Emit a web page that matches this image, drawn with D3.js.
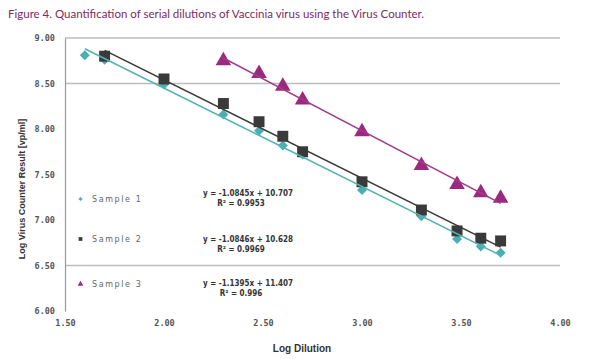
<!DOCTYPE html>
<html><head><meta charset="utf-8">
<script src="https://cdn.jsdelivr.net/npm/d3@7"></script>
<style>body{margin:0;background:#fff}svg{display:block}</style>
</head><body>
<script>
// ---- data ----
const s1x = [1.6, 1.7, 2.0, 2.3, 2.48, 2.6, 2.7, 3.0, 3.3, 3.48, 3.6, 3.7];
const s1y = [8.81, 8.76, 8.49, 8.16, 7.98, 7.82, 7.72, 7.33, 7.04, 6.79, 6.71, 6.64];
const s2x = [1.7, 2.0, 2.3, 2.48, 2.6, 2.7, 3.0, 3.3, 3.48, 3.6, 3.7];
const s2y = [8.80, 8.55, 8.28, 8.08, 7.92, 7.75, 7.42, 7.11, 6.88, 6.80, 6.77];
const s3x = [2.3, 2.48, 2.6, 2.7, 3.0, 3.3, 3.48, 3.6, 3.7];
const s3y = [8.75, 8.61, 8.47, 8.32, 7.97, 7.60, 7.39, 7.30, 7.24];
const seriesNames = ["Sample 1", "Sample 2", "Sample 3"];
const equations = ["y = -1.0845x + 10.707", "y = -1.0846x + 10.628", "y = -1.1395x + 11.407"];
const rsq = ["R\u00b2 = 0.9953", "R\u00b2 = 0.9969", "R\u00b2 = 0.996"];
const xTicks = [1.5, 2.0, 2.5, 3.0, 3.5, 4.0];
const yTicks = [6.0, 6.5, 7.0, 7.5, 8.0, 8.5, 9.0];
const gridVals = [9.0, 8.5, 6.5];
const title = "Figure 4. Quantification of serial dilutions of Vaccinia virus using the Virus Counter.";

const W = 608, H = 359;
const svg = d3.select("body").append("svg").attr("width", W).attr("height", H);
const x = d3.scaleLinear().domain([1.5, 4.0]).range([65, 560]);
const y = d3.scaleLinear().domain([6.0, 9.0]).range([311, 38]);

svg.append("text").attr("x", 8).attr("y", 18).text(title)
  .attr("font-family", "Lato").attr("font-size", 11.5).attr("fill", "#7d2a66");

// gridlines
svg.append("g").selectAll("line").data(gridVals).join("line")
  .attr("x1", x(1.5)).attr("x2", x(4.0)).attr("y1", d => y(d)).attr("y2", d => y(d))
  .attr("stroke", "#bdbdbd").attr("stroke-width", 1.5);

// y axis
const yAxis = svg.append("g").attr("transform", `translate(${x(1.5)},0)`)
  .call(d3.axisLeft(y).tickValues(yTicks).tickFormat(d3.format(".2f")).tickSize(0).tickPadding(10));
yAxis.select(".domain").attr("stroke", "#999").attr("stroke-width", 1.2);
yAxis.selectAll("text").attr("font-family", "DejaVu Sans Mono").attr("font-weight", "bold")
  .attr("font-size", 8.5).attr("fill", "#555");

const xAxis = svg.append("g").attr("transform", `translate(0,${y(6.0)})`)
  .call(d3.axisBottom(x).tickValues(xTicks).tickFormat(d3.format(".2f")).tickSize(0).tickPadding(9));
xAxis.select(".domain").remove();
xAxis.selectAll("text").attr("font-family", "DejaVu Sans Mono").attr("font-weight", "bold")
  .attr("font-size", 8.5).attr("fill", "#555");

svg.append("text").attr("transform", "translate(25,189) rotate(-90)").attr("text-anchor", "middle")
  .text("Log Virus Counter Result [vp/ml]").attr("font-family", "Liberation Sans")
  .attr("font-weight", "bold").attr("font-size", 9).attr("fill", "#333");
svg.append("text").attr("x", 302).attr("y", 352).attr("text-anchor", "middle")
  .text("Log Dilution").attr("font-family", "Liberation Sans")
  .attr("font-weight", "bold").attr("font-size", 10).attr("fill", "#333");

const colors = ["#4aafb0", "#3a3a3a", "#9a2a80"];
const lineColors = ["#55b3b3", "#3a3a3a", "#a23b89"];
const xs = [s1x, s2x, s3x], ys = [s1y, s2y, s3y];

function fit(xv, yv) {
  const mx = d3.mean(xv), my = d3.mean(yv);
  let num = 0, den = 0;
  xv.forEach((v, i) => { num += (v - mx) * (yv[i] - my); den += (v - mx) * (v - mx); });
  const m = num / den; return [m, my - m * mx];
}

function markerPath(i, size) {
  return d3.symbol(i === 2 ? d3.symbolTriangle : d3.symbolSquare, size)();
}
const symSizes = [50, 120, 105];

// markers
[0, 1, 2].forEach(i => {
  const pts = xs[i].map((v, j) => [v, ys[i][j]]);
  svg.append("g").selectAll("path").data(pts).join("path")
    .attr("transform", d => `translate(${x(d[0])},${y(d[1])})` + (i === 0 ? " rotate(45)" : ""))
    .attr("d", markerPath(i, symSizes[i]))
    .attr("fill", colors[i]);
});
// trendlines on top
[0, 1, 2].forEach(i => {
  const [m, b] = fit(xs[i], ys[i]);
  const x0 = d3.min(xs[i]), x1 = d3.max(xs[i]);
  svg.append("line").attr("x1", x(x0)).attr("y1", y(m * x0 + b))
    .attr("x2", x(x1)).attr("y2", y(m * x1 + b))
    .attr("stroke", lineColors[i]).attr("stroke-width", 1.6);
});

// legend
const legY = [202, 242, 287];
[0, 1, 2].forEach(i => {
  svg.append("path").attr("transform", `translate(80.5,${legY[i] - 3})` + (i === 0 ? " rotate(45)" : ""))
    .attr("d", markerPath(i, i === 0 ? 9 : 14))
    .attr("fill", colors[i]);
  svg.append("text").attr("x", 92).attr("y", legY[i]).text(seriesNames[i])
    .attr("font-family", "DejaVu Sans").attr("font-size", 8).attr("letter-spacing", 1.6)
    .attr("fill", "#666");
});
// equations
const eqY = [196, 242, 286];
[0, 1, 2].forEach(i => {
  svg.append("text").attr("x", 248).attr("y", eqY[i]).attr("text-anchor", "middle")
    .text(equations[i]).attr("font-family", "DejaVu Sans Condensed").attr("font-weight", "bold")
    .attr("font-size", 8).attr("fill", "#333");
  svg.append("text").attr("x", 241).attr("y", eqY[i] + 10).attr("text-anchor", "middle")
    .text(rsq[i]).attr("font-family", "DejaVu Sans Condensed").attr("font-weight", "bold")
    .attr("font-size", 8).attr("fill", "#333");
});
</script>
</body></html>
